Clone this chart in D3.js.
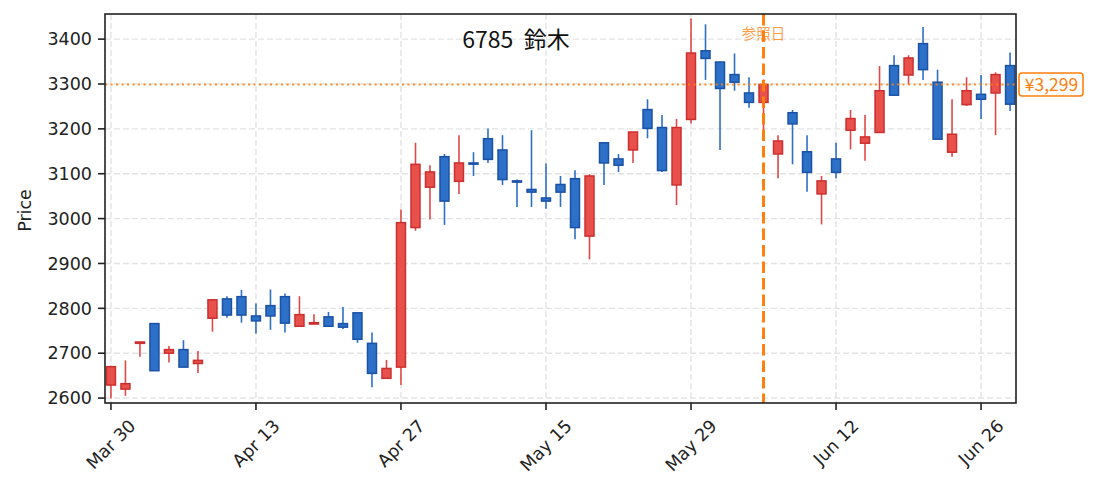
<!DOCTYPE html>
<html><head><meta charset="utf-8">
<script src="https://cdn.jsdelivr.net/npm/d3@7"></script>
<style>body{margin:0;background:#fff}svg{display:block}</style>
</head><body>
<svg id="c" width="1095" height="492"></svg>
<script>
const dates = ["2026-03-30","2026-03-31","2026-04-01","2026-04-02","2026-04-03","2026-04-06","2026-04-07","2026-04-08","2026-04-09","2026-04-10",
"2026-04-13","2026-04-14","2026-04-15","2026-04-16","2026-04-17","2026-04-20","2026-04-21","2026-04-22","2026-04-23","2026-04-24",
"2026-04-27","2026-04-28","2026-04-30","2026-05-01","2026-05-07","2026-05-08","2026-05-11","2026-05-12","2026-05-13","2026-05-14",
"2026-05-15","2026-05-18","2026-05-19","2026-05-20","2026-05-21","2026-05-22","2026-05-25","2026-05-26","2026-05-27","2026-05-28",
"2026-05-29","2026-06-01","2026-06-02","2026-06-03","2026-06-04","2026-06-05","2026-06-08","2026-06-09","2026-06-10","2026-06-11",
"2026-06-12","2026-06-15","2026-06-16","2026-06-17","2026-06-18","2026-06-19","2026-06-22","2026-06-23","2026-06-24","2026-06-25",
"2026-06-26","2026-06-29","2026-06-30"];
const open  = [2629,2620,2722,2766,2700,2708,2677,2778,2821,2826, 2783,2806,2826,2760,2765,2781,2766,2790,2722,2644,
               2669,2980,3070,3138,3083,3124,3178,3153,3084,3065, 3046,3076,3089,2961,3169,3133,3153,3243,3203,3075,
               3221,3374,3349,3321,3280,3259,3144,3236,3149,3055, 3133,3197,3168,3192,3341,3320,3390,3304,3148,3254,
               3277,3280,3341];
const high  = [2670,2684,2725,2766,2716,2729,2705,2819,2827,2841, 2811,2842,2833,2827,2787,2792,2803,2790,2746,2685,
               3020,3169,3119,3144,3186,3148,3201,3186,3087,3197, 3123,3095,3108,3099,3169,3144,3193,3266,3231,3222,
               3446,3433,3349,3368,3315,3310,3186,3242,3186,3095, 3169,3242,3231,3340,3364,3364,3427,3332,3266,3315,
               3320,3326,3370];
const low   = [2599,2605,2692,2661,2679,2669,2656,2748,2779,2768, 2744,2752,2746,2760,2765,2760,2754,2723,2624,2644,
               2629,2973,2998,2986,3055,3095,3124,3075,3026,3026, 3022,3026,2954,2909,3075,3104,3124,3179,3104,3030,
               3212,3309,3153,3285,3247,3178,3090,3121,3060,2987, 3090,3154,3129,3192,3275,3300,3309,3177,3138,3251,
               3222,3186,3240];
const close = [2670,2632,2725,2661,2708,2669,2684,2819,2785,2785, 2772,2783,2767,2786,2768,2760,2758,2731,2655,2666,
               2991,3121,3104,3039,3124,3122,3132,3087,3082,3059, 3039,3059,2980,3095,3124,3119,3193,3201,3107,3203,
               3369,3357,3290,3304,3259,3299,3173,3211,3103,3084, 3103,3223,3182,3285,3275,3358,3332,3177,3188,3285,
               3266,3321,3255];
const yTicks = [2600,2700,2800,2900,3000,3100,3200,3300,3400];
const xTickDates = ["2026-03-30","2026-04-13","2026-04-27","2026-05-15","2026-05-29","2026-06-12","2026-06-26"];
const xTickLabels = ["Mar 30","Apr 13","Apr 27","May 15","May 29","Jun 12","Jun 26"];
const refDate = "2026-06-05";
const refPrice = 3299;
const title = "6785  鈴木";

const L = 105, R = 1016, T = 14, B = 403;
const svg = d3.select("#c");
const FONT = "'Noto Sans CJK JP','Noto Sans',sans-serif";
const TFONT = "'DejaVu Sans',sans-serif";
const x = d3.scaleLinear().domain([-0.41, dates.length - 1 + 0.41]).range([L, R]);
const y = d3.scaleLinear().domain([2589, 3456]).range([B, T]);

svg.append("defs").append("clipPath").attr("id","clip")
  .append("rect").attr("x",L).attr("y",T).attr("width",R-L).attr("height",B-T);

const tickIdx = xTickDates.map(d => dates.indexOf(d));

// grid
const grid = svg.append("g");
grid.selectAll(".gy").data(yTicks).join("line")
  .attr("x1",L).attr("x2",R).attr("y1",d=>y(d)).attr("y2",d=>y(d))
  .attr("stroke","#e3e3e3").attr("stroke-width",1.4).attr("stroke-dasharray","6,3");
grid.selectAll(".gx").data(tickIdx).join("line")
  .attr("y1",T).attr("y2",B).attr("x1",d=>x(d)).attr("x2",d=>x(d))
  .attr("stroke","#e3e3e3").attr("stroke-width",1.4).attr("stroke-dasharray","6,3");

// candles
const data = dates.map((d,i)=>({i, o:open[i], h:high[i], l:low[i], c:close[i]}));
const up = d => d.c >= d.o;
const plot = svg.append("g").attr("clip-path","url(#clip)");
plot.selectAll(".wick").data(data).join("line")
  .attr("x1",d=>x(d.i)).attr("x2",d=>x(d.i)).attr("y1",d=>y(d.h)).attr("y2",d=>y(d.l))
  .attr("stroke",d=>up(d)?"#e04848":"#2e70c6").attr("stroke-width",1.6);
const bw = 0.62*(x(1)-x(0));
plot.selectAll(".body").data(data).join("rect")
  .attr("x",d=>x(d.i)-bw/2).attr("width",bw)
  .attr("y",d=>y(Math.max(d.o,d.c)))
  .attr("height",d=>Math.max(1.2, Math.abs(y(d.o)-y(d.c))))
  .attr("fill",d=>up(d)?"#e8504c":"#2d70c8")
  .attr("stroke",d=>up(d)?"#cc2f2f":"#1b52a6").attr("stroke-width",1.5);

// reference lines
svg.append("line").attr("x1",L).attr("x2",R).attr("y1",y(refPrice)).attr("y2",y(refPrice))
  .attr("stroke","#ff7f0e").attr("stroke-width",2).attr("stroke-dasharray","2.1,3.4").attr("opacity",0.85);
const rx = x(dates.indexOf(refDate));
svg.append("line").attr("x1",rx).attr("x2",rx).attr("y1",T).attr("y2",B)
  .attr("stroke","#ff7f0e").attr("stroke-width",3).attr("stroke-dasharray","11.5,5");
svg.append("text").attr("x",rx).attr("y",39).attr("text-anchor","middle")
  .attr("font-family",FONT).attr("font-size",14.5).attr("fill","#ff7f0e").attr("opacity",0.75).text("参照日");

// title
svg.append("text").attr("x",516).attr("y",48).attr("text-anchor","middle")
  .attr("font-family",FONT).attr("font-size",23).attr("fill","#111")
  .style("white-space","pre").text(title);

// frame
svg.append("rect").attr("x",L).attr("y",T).attr("width",R-L).attr("height",B-T)
  .attr("fill","none").attr("stroke","#222").attr("stroke-width",1.6);

// y axis ticks
const ya = svg.append("g");
ya.selectAll("line").data(yTicks).join("line")
  .attr("x1",L-7).attr("x2",L).attr("y1",d=>y(d)).attr("y2",d=>y(d))
  .attr("stroke","#222").attr("stroke-width",1.6);
ya.selectAll("text").data(yTicks).join("text")
  .attr("x",L-13).attr("y",d=>y(d)).attr("dy","0.36em").attr("text-anchor","end")
  .attr("font-family",TFONT).attr("font-size",17.5).attr("fill","#222").text(d=>d);

// x axis ticks
const xa = svg.append("g");
xa.selectAll("line").data(tickIdx).join("line")
  .attr("x1",d=>x(d)).attr("x2",d=>x(d)).attr("y1",B).attr("y2",B+7)
  .attr("stroke","#222").attr("stroke-width",1.6);
const fsX = 17.5;
xa.selectAll("text").data(tickIdx).join("text")
  .attr("text-anchor","middle").attr("dominant-baseline","central")
  .attr("font-family",TFONT).attr("font-size",fsX).attr("fill","#222")
  .text((d,i)=>xTickLabels[i])
  .each(function(d){
    const len = this.getComputedTextLength();
    const h = fsX*0.95;
    const cy = 417 + (len+h)/(2*Math.SQRT2);
    d3.select(this).attr("transform",`translate(${x(d)},${cy}) rotate(-45)`);
  });

// y label
svg.append("text").attr("transform",`translate(25,${(T+B)/2+2}) rotate(-90)`)
  .attr("text-anchor","middle").attr("dy","0.36em").attr("font-family",TFONT).attr("font-size",17.5).attr("fill","#222").text("Price");

// price tag
const tag = svg.append("g");
tag.append("rect").attr("x",1019).attr("y",y(refPrice)-11.5).attr("width",64).attr("height",23).attr("rx",3)
  .attr("fill","#fff").attr("stroke","#ff7f0e").attr("stroke-width",1.6);
tag.append("text").attr("x",1051.5).attr("y",y(refPrice)).attr("dy","0.35em").attr("text-anchor","middle")
  .attr("font-family",FONT).attr("font-size",17.5).attr("fill","#ff7f0e").text("¥" + d3.format(",")(refPrice));
</script>
</body></html>
